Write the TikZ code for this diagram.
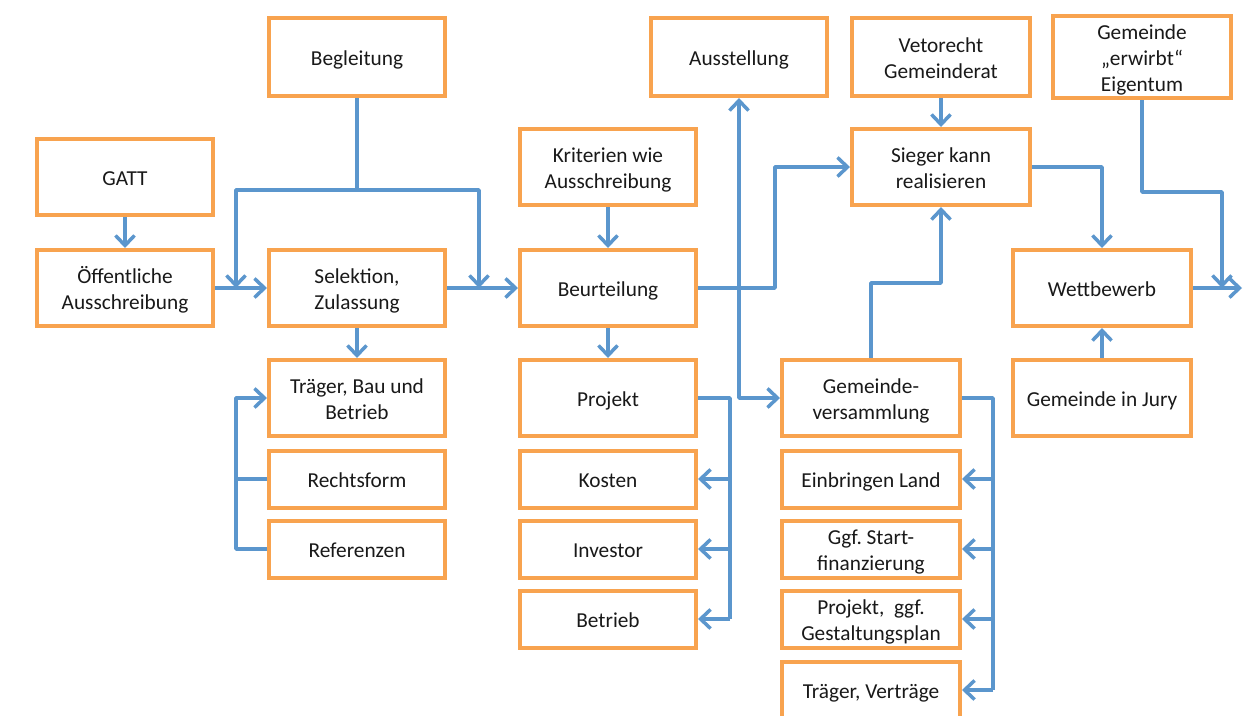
\documentclass[tikz,border=0pt]{standalone}
\usepackage{fontspec}
\setmainfont{Carlito}
\usetikzlibrary{arrows.meta}
\frenchspacing
\definecolor{boxor}{RGB}{248,163,79}
\definecolor{lnblue}{RGB}{91,150,205}
\newcommand\bt[1]{\raisebox{-3.5pt}[\height][\depth]{\begin{tabular}{@{}c@{}}#1\end{tabular}}}
\tikzset{
  box/.style={draw=boxor, line width=4pt, fill=white, minimum width=176pt, minimum height=76pt,
    inner sep=2pt, font=\fontsize{21.3}{26}\selectfont, text=black!90},
  sbox/.style={box, minimum height=57pt},
  wbox/.style={box, minimum width=178pt},
  ln/.style={draw=lnblue, line width=3.5pt, line join=round},
  arr/.style={ln, -{Straight Barb[length=10pt,width=19pt,line width=3.5pt]}},
  darr/.style={ln, {Straight Barb[length=10pt,width=19pt,line width=3.5pt]}-{Straight Barb[length=10pt,width=19pt,line width=3.5pt]}},
}
\begin{document}
\begin{tikzpicture}[x=1pt,y=-1pt]
\useasboundingbox (0,0) rectangle (1252,715);
\clip (0,0) rectangle (1252,715);
\fill[white] (0,0) rectangle (1252,715);
% column 1
\node[box] (gatt) at (125,177) {\bt{GATT}};
\node[box] (oeff) at (125,288) {\bt{Öffentliche\\Ausschreibung}};
% column 2
\node[box, minimum height=78pt] (begl) at (357,57) {\bt{Begleitung}};
\node[box] (sel) at (357,288) {\bt{Selektion,\\Zulassung}};
\node[box] (trbb) at (357,398) {\bt{Träger, Bau und\\Betrieb}};
\node[sbox] (rechts) at (357,479) {\bt{Rechtsform}};
\node[sbox] (ref) at (357,549) {\bt{Referenzen}};
% column 3
\node[box] (krit) at (608,167) {\bt{Kriterien wie\\Ausschreibung}};
\node[box] (beurt) at (608,288) {\bt{Beurteilung}};
\node[box] (proj) at (608,398) {\bt{Projekt}};
\node[sbox] (kosten) at (608,479) {\bt{Kosten}};
\node[sbox] (invest) at (608,549) {\bt{Investor}};
\node[sbox] (betr) at (608,619) {\bt{Betrieb}};
% column 4
\node[box, minimum height=78pt] (ausst) at (739,57) {\bt{Ausstellung}};
\node[wbox] (gv) at (871,398) {\bt{Gemeinde-\\versammlung}};
\node[wbox, minimum height=57pt] (einbr) at (871,479) {\bt{Einbringen Land}};
\node[wbox, minimum height=57pt] (ggf) at (871,549) {\bt{Ggf. Start-\\finanzierung}};
\node[wbox, minimum height=57pt] (projg) at (871,619) {\bt{Projekt,~ ggf.\\Gestaltungsplan}};
\node[wbox, minimum height=57pt] (trv) at (871,690) {\bt{Träger, Verträge}};
% column 5
\node[wbox, minimum height=78pt] (veto) at (941,57) {\bt{Vetorecht\\Gemeinderat}};
\node[wbox] (sieger) at (941,167) {\bt{Sieger kann\\realisieren}};
% column 6
\node[wbox, minimum height=78pt] (eigent) at (1142,57) {\bt{Gemeinde\\„erwirbt“\\Eigentum}};
\node[wbox] (wettb) at (1102,288) {\bt{Wettbewerb}};
\node[wbox] (jury) at (1102,398) {\bt{Gemeinde in Jury}};

% coordinates
\coordinate (bl) at (236,190);
\coordinate (br) at (479,190);
\coordinate (ej) at (1222,192);
\coordinate (out) at (1242,288);

% connectors
\draw[arr] (gatt) -- (oeff);
\draw[arr] (oeff.east) -- (sel.west);
\draw[arr] (sel.east) -- (beurt.west);
\draw[arr] (begl.south) |- (bl) -- (bl |- oeff.east);
\draw[arr] (begl.south) |- (br) -- (br |- sel.east);
\draw[arr] (sel) -- (trbb);
\draw[arr] (ref.west) -- ++(-31,0) |- (trbb.west);
\draw[ln] (rechts.west) -- ++(-31,0);

\draw[arr] (krit) -- (beurt);
\draw[arr] (beurt) -- (proj);
\draw[ln] (proj.east) -- ++(32,0) coordinate (pj) -- (pj |- betr.east);
\draw[arr] (pj |- kosten.east) -- (kosten.east);
\draw[arr] (pj |- invest.east) -- (invest.east);
\draw[arr] (pj |- betr.east) -- (betr.east);

\draw[darr] (ausst.south) -- (ausst.south |- gv.west) -- (gv.west);
\draw[arr] (beurt.east) -- ++(77,0) |- (sieger.west);

\draw[arr] (gv.north) -- ++(0,-75) -| (sieger.south);
\draw[ln] (gv.east) -- ++(31,0) coordinate (gj) -- (gj |- trv.east);
\draw[arr] (gj |- einbr.east) -- (einbr.east);
\draw[arr] (gj |- ggf.east) -- (ggf.east);
\draw[arr] (gj |- projg.east) -- (projg.east);
\draw[arr] (gj |- trv.east) -- (trv.east);

\draw[arr] (veto) -- (sieger);
\draw[arr] (sieger.east) -| (wettb.north);
\draw[arr] (eigent.south) |- (ej) -- (ej |- wettb.east);
\draw[arr] (wettb.east) -- (out);
\draw[arr] (jury) -- (wettb);
\end{tikzpicture}
\end{document}
